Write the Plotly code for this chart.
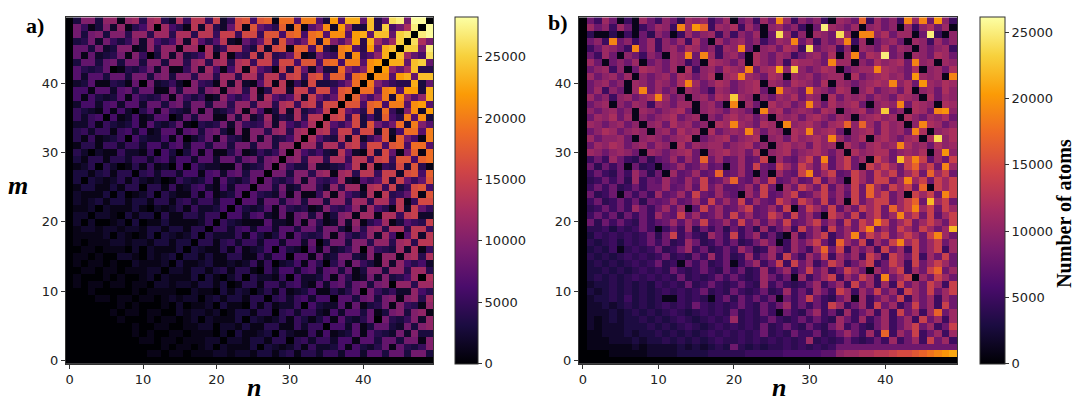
import plotly.graph_objects as go

# cell indices
n_vals = list(range(50))
m_vals = list(range(50))

# values in thousands of atoms, one base-36 digit per cell (0-9, a=10 ... s=28)
# rows are m = 0..49, columns n = 0..49; '.' = same value as the mirrored cell (a is symmetric)
rows_a = [
    "0000000000 0000000000 0000000000 0000000000 0000000000",
    ".000000000 0110110111 2212213313 4144255266 2773883993",
    "..00000000 0001011012 0211130321 2415223616 324818435a",
    "...0000000 1101101112 2022133144 0452552661 773883991a",
    "....000001 0100110111 0203112304 2115161237 1743292a33",
    ".....00001 0011001122 0221311441 1525506627 13883293ab",
    "......0100 0101101202 1113032124 1531361732 4809435a2b",
    ".......011 0110021221 2013314404 5255216277 38139a3ab1",
    "........01 0001020112 0311041412 2506322718 13491a541b",
    ".........0 1101212202 3133144045 2562660773 8939a1ab4c",
    ".......... 0111100211 0313202415 1236114248 0953522b64",
    ".......... .022122133 1301441552 5621727838 939a0bb4cc",
    ".......... ..02111303 1024042215 0622371841 292a346c0d",
    ".......... ...0221331 3414410526 6267278381 3aa3bb4cc4",
    ".......... ....031123 1121251502 3617404819 531b2b6462",
    ".......... .....03313 1144115266 0771823993 2a1bb1cd4d",
    ".......... ......0321 1415123606 320718235a 0a543c2d15",
    ".......... .......044 1452552662 772803993a a4bb4cd4ee",
    ".......... ........04 2225163137 1743491953 5b2c607e2e",
    ".......... .........0 5525626627 738839931a 4bc4dd4ee5",
    ".......... .......... 0532111722 1819412a2b 146c13754f",
    ".......... .......... .066267218 1893913ab1 cc1dd5ef22",
    ".......... .......... ..06323718 43412a546b 2c641e2f85",
    ".......... .......... ...0772883 893aa3bb4c c4dd5e15gg",
    ".......... .......... ....074328 19115b1b64 2d1e458g1h",
    ".......... .......... .....08839 23aa42b4cc 1de5f35gh6",
    ".......... .......... ......0843 5a2a546c21 757f3f858h",
    ".......... .......... .......099 3aa4bc1cd4 ee5ff2gh6i",
    ".......... .......... ........0a 533b22347e 1e154g3h41",
    ".......... .......... .........0 ab4cc4dd5e e5fg5hh6ij",
    ".......... .......... .......... 0b64632e72 1f3g819i1j",
    ".......... .......... .......... .0cc4dd5ef 5gg6hi6jj7",
    ".......... .......... .......... ..0d743e2f 258h1i961k",
    ".......... .......... .......... ...0de5ff5 gg2h26jj7k",
    ".......... .......... .......... ....0e758g 3h969j3ka7",
    ".......... .......... .......... .....0fg5g 363i64k7l3",
    ".......... .......... .......... ......0g86 4i3j52al2m",
    ".......... .......... .......... .......0hh 6ij6kk7lm7",
    ".......... .......... .......... ........0i 96ak3lb7bn",
    ".......... .......... .......... .........0 jj7kl7mm3n",
    ".......... .......... .......... .......... 0ka7544n38",
    ".......... .......... .......... .......... .0ll7mn8oo",
    ".......... .......... .......... .......... ..0mb8co44",
    ".......... .......... .......... .......... ...0nn8op8",
    ".......... .......... .......... .......... ....0oc86q",
    ".......... .......... .......... .......... .....0pp9r",
    ".......... .......... .......... .......... ......0qd9",
    ".......... .......... .......... .......... .......0rs",
    ".......... .......... .......... .......... ........0s",
    ".......... .......... .......... .......... .........0",
]

rows_b = [
    "0000000000 0000000000 0000000000 0000000000 0000000000",
    "0000111112 2223333444 4455555666 6677abbccd deffghijkl",
    "0111111212 2223232343 8434344545 4545888888 8888888888",
    "0111222323 3434343454 4545454545 b454585458 5b58b5e8b5",
    "0112223233 4343434545 4545845485 58458b85b5 h5b8e58b5b",
    "0212223334 3434543454 5454845854 8548b58548 b58be8b58e",
    "0212323343 4345434545 b454585458 5854b85b58 b58b5e8b5b",
    "0222323434 3454345454 8454851854 8b584b58b5 b5e8b5bh8b",
    "0223234343 4545485454 5854858b58 585eb58b5e 8b58e8b5e8",
    "0233435343 4115454158 4858581858 e8548b1b58 b8e5b8b5b8",
    "0323434343 4545458454 8545845b58 5b85eb5b8e 8b5eb8e8be",
    "0233434343 5454845854 5854b58545 8b58b5e8b5 b5e8b8eb5e",
    "0343434545 4548454585 8545b8581b 58be5b8eb5 j8be1b8eb8",
    "0334343454 5485458548 5845b58b58 e8b58eb81b 8be5b8eh8b",
    "0343434545 8451858458 158b58e5e8 b58eb58be5 8eb5e8beb8",
    "0434345454 5845485b58 45b58b5e85 b8e5b8b5eb 5eb8e5b8e8",
    "0343514545 8458b58458 5b845b85b8 5bh8e5b8b5 e8b5e8be5b",
    "0434535458 5845b84585 8458b815b8 be85hb8e5b 8ejbe8be8b",
    "0354545458 48e5854b85 e58b5841b5 8be58bj8eb e8beb8ejb8",
    "0445354585 1585b48584 8584b58b5e 8b5e8b8ej8 b8eb8eb8bm",
    "0848585485 78b7b8e78b 7e8b7b8e78 be8b7e8ebj e8be8beb8e",
    "0585848585 b87e8b78b7 e8b78eb7e8 b71eb8e7be 8bjbe8e7be",
    "0458585b85 8b7b17e8b7 8be78b7e18 eb8e7b8ebe 8hbejbe8eb",
    "0584585848 78b78b7e8b 8e7b87eb8e b8e7b1e8be e8beh8mbe8",
    "0845818585 b78b7e87b8 71b8e78be7 8be8b7e8hb e8b1ebe8je",
    "0585845858 8b78b7e8b7 78b7e81b8e b8e7b8e8hb 8ebe8h1ebe",
    "0458584b58 7b87b8e78b h87b8e78b7 8e7b81eb8e e8bjbe8ebe",
    "0585485b84 81b78b78h7 8b7181b87e j8be78eb8e be8be8hbe8",
    "0848581845 178b78b781 8b7e87eb8e b8e7be81eb eb8ehbe8jb",
    "0585b85484 78b7b8h8b7 8b78e1b87b e8j7be8b1e b8meje7b8e",
    "0ba8aba81b a8abc81abc ab8c1abc8a bca8b1cabc c8abac1bka",
    "08bacb8ab8 ba1c8babb8 abc8a1bcab 8cab1ca8bc abjcab8cab",
    "0b8aab81ab a8abc18abc 8abc1ab8ca bcajb8ac1b ca8bc1coac",
    "08acb8aba1 ab8cab1c8a bajb8ba1cb jabc81abc8 cab8jc1abc",
    "0ba8ab8a1a b8cab8a1cb jba8cb1jab ca8bchahb8 cab1ajcb8a",
    "08bac8b1a8 abc8ab1a8b cab8a1bab8 bca8ba1abc ab1ca8bac8",
    "0a8ab8a1ba 8abc81aba8 ba81jbc8ab a8cb1abc8a n8a1cb8jka",
    "08ab1a8ba5 ba8bb1ab81 j1b81cab8a jb8cabc81a baj8cba1cb",
    "0b8a5ab8ac jb8a1ab8cb nba1a8bac8 ba1c8bab8b a8cba1c8ba",
    "08b5a81bj8 b8a1ba85ba 8abc81jba8 jba8cb1ac8 ab8c1ab8ca",
    "08ab8a1ba8 ba8cjb8acb 8abc1ba8cb a8c1ba8abc bjac8kbacb",
    "0b8ab8b1a8 ab8cb8ac1b cjba8cb1ba b8abb1c8ab cab8kbab1j",
    "08ab5a18cb a8b1c5ab8c baj8bclana 8acb18abbj cba8c1ab8c",
    "0b818a8b18 a8ba581cba 8b1ca8b5cb ba8jbb1a8c abc8jab1ba",
    "085b81a85a 81baj8jb5a b81ca8ba58 ab8c1bj8cb p8a1ba8cb8",
    "058ba85j8b 5ab8cb8a5b aj81ab8cb5 o8ab5a1ba8 c8ba1a8ab5",
    "08a5j8a58b 5a8b5c81b8 ab8a58baj8 b5a8bj5b18 ab81ba5b8a",
    "0411415184 a815b8ab5a 5a8b18ob5a 1ba8ob1jja c8bb18p51a",
    "0b8a5b8158 ba5jbkh5ba c5b81ab8a5 18pba8b1ab 8a1b5ac8b1",
    "085b8151b8 5a84bab58b 18a5b8jb5a 8a51ba8h5b 8a5jbj8ka5",
]

cbar_ticks = [0, 5000, 10000, 15000, 20000, 25000]


def decode(rows):
    z = []
    for m, r in enumerate(rows):
        r = r.replace(" ", "")
        assert len(r) == 50, (m, len(r))
        line = []
        for n, ch in enumerate(r):
            line.append(z[n][m] if ch == "." else int(ch, 36) * 1000)
        z.append(line)
    return z


za = decode(rows_a)
zb = decode(rows_b)

W, H = 1075, 401
def px(x): return x / W
def py(y): return 1 - y / H

tick_font = dict(family="DejaVu Sans", size=13, color="#222")
serif = "Liberation Serif"

ax_common = dict(range=[-0.5, 49.5], tickvals=[0, 10, 20, 30, 40], ticks="outside",
                 ticklen=4, tickcolor="#333", showline=True, mirror=True,
                 linecolor="#333", linewidth=1, showgrid=False, zeroline=False,
                 tickfont=tick_font)

cb_common = dict(tickvals=cbar_ticks, ticktext=[str(t) for t in cbar_ticks],
                 ticks="outside", ticklen=4, tickcolor="#333",
                 outlinewidth=1, outlinecolor="#333", tickfont=tick_font,
                 lenmode="fraction", len=(367.5 - 17.5) / H, xpad=0, ypad=0,
                 y=py(367.5), yanchor="bottom", xanchor="left")

fig = go.Figure()
fig.add_trace(go.Heatmap(z=za, x=n_vals, y=m_vals, colorscale="Inferno",
                         zmin=0, zmax=28228, xaxis="x", yaxis="y",
                         colorbar=dict(x=px(455), thickness=23, **cb_common)))
fig.add_trace(go.Heatmap(z=zb, x=n_vals, y=m_vals, colorscale="Inferno",
                         zmin=0, zmax=26160, xaxis="x2", yaxis="y2",
                         colorbar=dict(x=px(980), thickness=25, **cb_common)))


def label(text, x, y, size, angle=0):
    return dict(text=text, x=px(x), y=py(y), xref="paper", yref="paper",
                xanchor="center", yanchor="middle", showarrow=False, textangle=angle,
                font=dict(family=serif, size=size, color="black"))


fig.update_layout(
    width=W, height=H,
    margin=dict(l=0, r=0, t=0, b=0),
    paper_bgcolor="white", plot_bgcolor="white",
    xaxis=dict(domain=[px(66), px(433)], anchor="y", **ax_common),
    yaxis=dict(domain=[py(367.5), py(17.5)], anchor="x", **ax_common),
    xaxis2=dict(domain=[px(579), px(957)], anchor="y2", **ax_common),
    yaxis2=dict(domain=[py(367.5), py(17.5)], anchor="x2", **ax_common),
    annotations=[
        label("<b>a)</b>", 35, 26, 22),
        label("<b>b)</b>", 558, 23, 22),
        label("<b><i>m</i></b>", 18, 187, 26),
        label("<b><i>n</i></b>", 254, 391, 26),
        label("<b><i>n</i></b>", 779, 391, 26),
        label("<b>Number of atoms</b>", 1064, 216, 20, -90),
    ],
)

fig.write_html("out.html", config={"displayModeBar": False},
               post_script="document.body.style.margin='0';")
